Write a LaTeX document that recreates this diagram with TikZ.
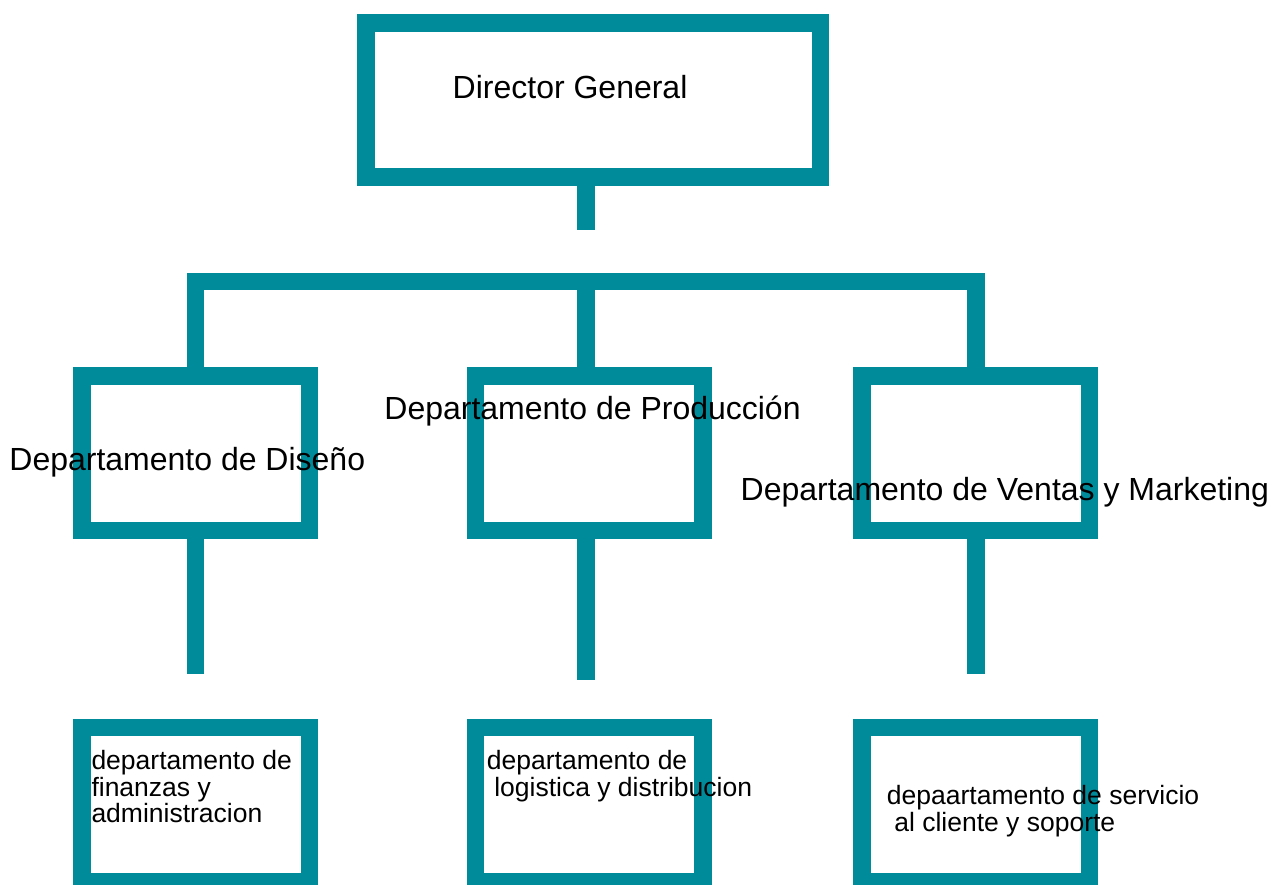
\documentclass[tikz,border=0pt]{standalone}
\usepackage{fontspec}
\setmainfont{Liberation Sans}
\definecolor{teal1}{RGB}{0,139,155}
\begin{document}
\begin{tikzpicture}[x=1pt,y=-1pt,
  boxst/.style={draw=teal1,line width=17.5pt,inner sep=0pt,fill=white},
  smallbox/.style={boxst,minimum width=227.5pt,minimum height=154.5pt},
  conn/.style={draw=teal1,line width=17.5pt},
  biglabel/.style={anchor=base west,inner sep=0pt,font=\fontsize{32}{38}\selectfont},
  smalllabel/.style={anchor=base west,inner sep=0pt,font=\fontsize{26.5}{26.5}\selectfont}]
\useasboundingbox (0,0) rectangle (1276,884);
\clip (0,0) rectangle (1276,884);
% boxes
\node[boxst,minimum width=454.5pt,minimum height=154.2pt] (top) at (593.3,99.9) {};
\node[smallbox] (d1) at (195.65,453.3) {};
\node[smallbox] (d2) at (589.2,453.3) {};
\node[smallbox] (d3) at (975.8,453.3) {};
\node[smallbox] (s1) at (195.65,804.55) {};
\node[smallbox] (s2) at (589.2,804.55) {};
\node[smallbox] (s3) at (975.8,804.55) {};
% connector points
\coordinate (t1) at (586,230);
\coordinate (barmid) at (586,281.7);
\coordinate (e1) at (195.5,674.3);
\coordinate (e2) at (586,680);
\coordinate (e3) at (976,674.3);
% connectors
\draw[conn] (top.south -| t1) -- (t1);
\draw[conn] (d1.north -| e1) -- (e1 |- barmid) -- (e3 |- barmid) -- (d3.north -| e3);
\draw[conn] (barmid) -- (barmid |- d2.north);
\draw[conn] (d1.south -| e1) -- (e1);
\draw[conn] (d2.south -| e2) -- (e2);
\draw[conn] (d3.south -| e3) -- (e3);
% labels
\node[biglabel] (ltop) at (452.5,98.3) {Director General};
\node[biglabel] (ld1) at (9.2,470) {Departamento de Diseño};
\node[biglabel] (ld2) at (384.2,419.3) {Departamento de Producción};
\node[biglabel] (ld3) at (740.5,500) {Departamento de Ventas y Marketing};
\node[smalllabel] (ls1) at (91.3,769.5) {\parbox[t]{300pt}{\raggedright departamento de\\finanzas y\\administracion}};
\node[smalllabel] (ls2) at (486.7,769.5) {\parbox[t]{400pt}{\raggedright departamento de\\\hspace*{7.4pt}logistica y distribucion}};
\node[smalllabel] (ls3) at (886.7,804.5) {\parbox[t]{400pt}{\raggedright depaartamento de servicio\\\hspace*{7.4pt}al cliente y soporte}};
\end{tikzpicture}
\end{document}
